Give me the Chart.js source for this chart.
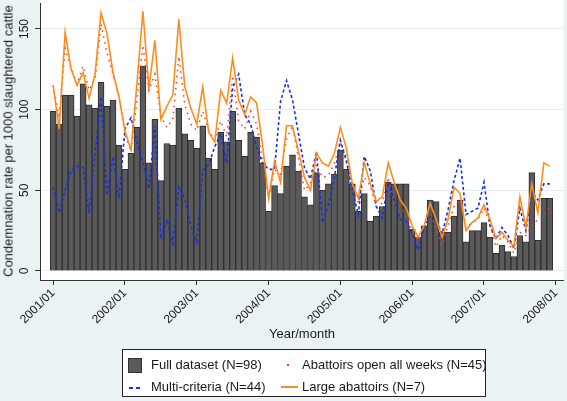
<!DOCTYPE html>
<html><head><meta charset="utf-8">
<script src="https://cdn.jsdelivr.net/npm/chart.js"></script>
<style>
html,body{margin:0;padding:0;background:#EAF2F3;}
#wrap{position:relative;width:567px;height:401px;overflow:hidden;font-family:"Liberation Sans",Arial,sans-serif;color:#1a1a1a;}
canvas{position:absolute;left:0;top:0;}
.ytitle{position:absolute;left:8px;top:141px;transform:translate(-50%,-50%) rotate(-90deg);font-size:13px;white-space:nowrap;}
.xtitle{position:absolute;left:302px;top:333px;transform:translate(-50%,-50%);font-size:13px;white-space:nowrap;}
.legend{position:absolute;left:122px;top:349px;width:364px;height:48px;border:1px solid #222;background:#fff;font-size:13px;box-sizing:border-box;}
.item{position:absolute;white-space:nowrap;line-height:16px;}
.sym{position:absolute;}
</style></head>
<body>
<div id="wrap">
<canvas id="c" width="567" height="401"></canvas>
<div class="ytitle">Condemnation rate per 1000 slaughtered cattle</div>
<div class="xtitle">Year/month</div>
<div class="legend">
  <div class="sym" style="left:5px;top:8px;width:12px;height:13px;background:#5a5a5a;border:1px solid #333;"></div>
  <div class="item" style="left:28px;top:7px;">Full dataset (N=98)</div>
  <div class="sym" style="left:164px;top:14px;width:2px;height:2px;background:#e8402a;"></div>
  <div class="item" style="left:179px;top:7px;">Abattoirs open all weeks (N=45)</div>
  <div class="sym" style="left:6px;top:37px;width:4px;height:2px;background:#1530e0;"></div>
  <div class="sym" style="left:13px;top:37px;width:4px;height:2px;background:#1530e0;"></div>
  <div class="item" style="left:28px;top:29px;">Multi-criteria (N=44)</div>
  <div class="sym" style="left:158px;top:36px;width:17px;height:2px;background:#ff8c1a;"></div>
  <div class="item" style="left:179px;top:29px;">Large abattoirs (N=7)</div>
</div>
</div>
<script>
// ---- data (monthly, 2001/01 .. 2007/12) ----
const startYear = 2001;
const nMonths = 84;
const monthIndex = Array.from({length: nMonths}, (_, i) => i);
const xTickValues = [0, 12, 24, 36, 48, 60, 72, 84];
const xTickLabels = ['2001/01','2002/01','2003/01','2004/01','2005/01','2006/01','2007/01','2008/01'];
const yTickValues = [0, 50, 100, 150];
const yTickLabels = ['0', '50', '100', '150'];

const fullDataset = [
  99, 91,109,109, 96,116,103,101,117,102,106, 78,
  63, 73, 89,127, 67, 94, 56, 79, 78,101, 85, 81,
  76, 90, 70, 63, 86, 80, 99, 81, 71, 86, 83, 67,
  37, 53, 48, 65, 72, 62, 46, 41, 61, 50, 54, 60,
  75, 63, 54, 37, 48, 31, 34, 40, 55, 54, 54, 54,
  26, 21, 28, 44, 43, 24, 24, 34, 44, 18, 25, 25,
  30, 21, 11, 16, 12,  9, 22, 18, 61, 19, 45, 45
];
const openAllWeeks = [
 115, 95,138,126,116,127,112,119,153,135,122,108,
  85, 74,106,140,112,122, 96, 89, 94,133,103, 91,
  87, 99, 87, 81, 93, 83,121, 93, 88, 99, 91, 68,
  45, 63, 60, 82, 90, 70, 50, 54, 66, 58, 59, 67,
  80, 71, 52, 42, 58, 53, 40, 42, 58, 42, 40, 34,
  25, 19, 25, 36, 26, 16, 28, 40, 44, 27, 30, 32,
  39, 30, 15, 22, 18, 11, 24, 22, 28, 32, 34, 40
];
const multiCriteria = [
  52, 36, 50, 62, 65, 64, 36, 73,108, 47, 71, 45,
  88, 95, 80, 67, 51, 90, 20, 32, 17, 52, 45, 28,
  18, 62, 66, 77, 85, 67,114,122, 97, 91, 77, 67,
  63, 63,105,118,106, 85, 64, 57, 74, 30, 41, 58,
  81, 68, 50, 35, 71, 62, 40, 33, 55, 44, 32, 31,
  23, 13, 27, 34, 32, 23, 38, 56, 70, 35, 37, 39,
  55, 28, 20, 27, 22, 14, 39, 25, 49, 44, 54, 54
];
const largeAbattoirs = [
 115, 88,148,125,115,123,107,122,160,147,123,108,
  87, 75,116,161,113,143, 94,102,109,156,114,101,
  91,114, 86, 80,112,104,132,106, 97,108,104, 78,
  45, 68, 55, 90, 90, 74, 58, 50, 73, 67, 65, 73,
  89, 76, 54, 45, 67, 54, 43, 46, 67, 55, 44, 39,
  28, 21, 28, 42, 32, 21, 32, 52, 48, 25, 30, 33,
  41, 32, 20, 24, 19, 15, 46, 27, 54, 36, 67, 65
];

const toXY = arr => arr.map((v, i) => ({x: monthIndex[i], y: v}));
const FONT = '"Liberation Sans", Arial, sans-serif';
Chart.defaults.font.family = FONT;

const bgPlugin = {
  id: 'bg',
  beforeDraw(c) {
    const ctx = c.ctx, a = c.chartArea;
    ctx.save();
    ctx.fillStyle = '#EAF2F3';
    ctx.fillRect(0, 0, c.width, c.height);
    ctx.fillStyle = '#ffffff';
    ctx.fillRect(a.left, 0, a.right - a.left, a.bottom);
    ctx.restore();
  }
};
const yLabelPlugin = {
  id: 'ylabels',
  afterDraw(c) {
    const ctx = c.ctx, s = c.scales.y;
    ctx.save();
    ctx.fillStyle = '#1a1a1a';
    ctx.font = '12px ' + FONT;
    ctx.textAlign = 'center';
    ctx.textBaseline = 'middle';
    yTickValues.forEach((v, i) => {
      const py = s.getPixelForValue(v);
      ctx.save();
      ctx.translate(s.left + 25, py);
      ctx.rotate(-Math.PI / 2);
      ctx.fillText(yTickLabels[i], 0, 0);
      ctx.restore();
    });
    ctx.restore();
  }
};

new Chart(document.getElementById('c'), {
  type: 'bar',
  data: {
    datasets: [
      {type: 'line', label: 'Large abattoirs (N=7)', data: toXY(largeAbattoirs),
       borderColor: '#ff8c1a', borderWidth: 1.6, pointRadius: 0, tension: 0, order: 1},
      {type: 'line', label: 'Multi-criteria (N=44)', data: toXY(multiCriteria),
       borderColor: '#1530e0', borderWidth: 1.6, borderDash: [3, 2.5], pointRadius: 0, tension: 0, order: 2},
      {type: 'line', label: 'Abattoirs open all weeks (N=45)', data: toXY(openAllWeeks),
       borderColor: '#e8402a', borderWidth: 1.5, borderDash: [1.5, 4.5], pointRadius: 0, tension: 0, order: 3},
      {type: 'bar', label: 'Full dataset (N=98)', data: toXY(fullDataset),
       backgroundColor: '#5a5a5a', borderColor: '#2e2e2e', borderWidth: 1,
       barPercentage: 1, categoryPercentage: 1, order: 10}
    ]
  },
  options: {
    responsive: false,
    animation: false,
    devicePixelRatio: 1,
    layout: {padding: {top: 3, right: 2, left: 0, bottom: 0}},
    plugins: {legend: {display: false}, tooltip: {enabled: false}},
    scales: {
      x: {
        type: 'linear', min: -2.2, max: 85.3, offset: false,
        afterBuildTicks: s => { s.ticks = xTickValues.map(v => ({value: v})); },
        afterFit: s => { s.height = 121; },
        grid: {drawOnChartArea: false, drawTicks: true, tickLength: 5, tickColor: '#333', offset: false},
        border: {display: true, color: '#333', width: 1},
        ticks: {
          autoSkip: false, minRotation: 45, maxRotation: 45, padding: 1,
          color: '#1a1a1a', font: {size: 12},
          callback: (v) => { const i = xTickValues.indexOf(v); return i >= 0 ? xTickLabels[i] : ''; }
        }
      },
      y: {
        type: 'linear', min: -5.58, max: 166.1,
        afterBuildTicks: s => { s.ticks = yTickValues.map(v => ({value: v})); },
        afterFit: s => { s.width = 40; },
        grid: {color: '#e3ecef', lineWidth: 1, drawTicks: true, tickLength: 5, tickColor: '#333'},
        border: {display: true, color: '#333', width: 1},
        ticks: {display: false}
      }
    }
  },
  plugins: [bgPlugin, yLabelPlugin]
});
</script>
</body></html>
